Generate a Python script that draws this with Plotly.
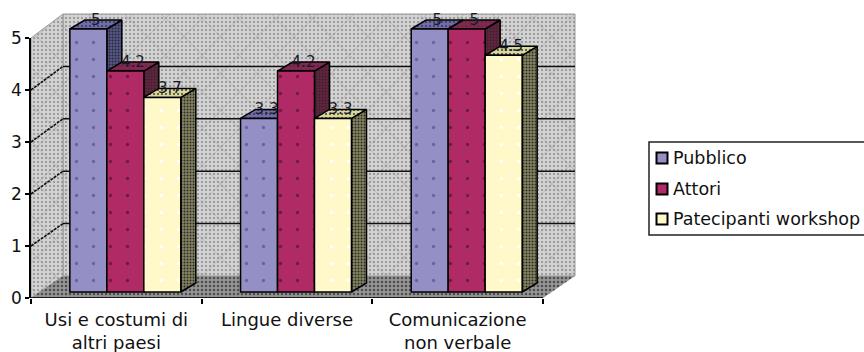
import plotly.graph_objects as go

W, H = 864, 352

categories = ["Usi e costumi di<br>altri paesi", "Lingue diverse", "Comunicazione<br>non verbale"]
series_names = ["Pubblico", "Attori", "Patecipanti workshop"]
pubblico = [5, 3.3, 5]
attori = [4.2, 4.2, 5]
partecipanti = [3.7, 3.3, 4.5]
y_ticks = [0, 1, 2, 3, 4, 5]

front_colors = ["#9490C6", "#B02A66", "#FFF8C8"]
top_colors = ["#6F6DB0", "#8A2452", "#D9D79C"]
side_colors = ["#55558F", "#6B2040", "#85855F"]
dot_colors = ["#6464A8", "#6E1A42", "#FFFFFF"]

# Pixel scale of the plane holding the bar fronts
UX, UY = 170.67, 52.6
X0, Y0 = 40, 292
BAR_W = 37 / UX
DX, DY = 15 / UX, 9 / UY          # depth of one bar
BACK_DX, BACK_DY = 23 / UX, 16 / UY   # bar plane -> back wall
FRONT_DX, FRONT_DY = -9 / UX, -6 / UY  # bar plane -> front edge
WALL_SCALE = 52.4 / UY
AXIS_SCALE = 52 / UY
N_CAT = 3
values = [pubblico, attori, partecipanti]


def px(xp, yp):
    return (xp - X0) / UX, (Y0 - yp) / UY


fig = go.Figure()


def poly(xs, ys, fill, pattern=None, line=None, width=1.5):
    fig.add_trace(go.Scatter(
        x=xs + xs[:1], y=ys + ys[:1], mode="lines", fill="toself", fillcolor=fill,
        fillpattern=pattern,
        line=dict(color=line or "rgba(0,0,0,0)", width=width),
        hoverinfo="skip", showlegend=False))


wall_dots = dict(shape=".", size=4, solidity=0.2, fgcolor="#8A8A8A", bgcolor="#D2D2D2")
wall_cross = dict(shape="x", size=26, solidity=0.04, fgcolor="#9A9A9A", bgcolor="rgba(0,0,0,0)")
floor_dots = dict(shape=".", size=4, solidity=0.3, fgcolor="#4E4E4E", bgcolor="#959595")

# Coordinates of the three depth planes at a given category position and value
front = lambda c, v: (c + FRONT_DX, v * AXIS_SCALE + FRONT_DY)
back = lambda c, v: (c + BACK_DX, v * WALL_SCALE + BACK_DY)

# Back wall
bx = [back(0, 0)[0], back(N_CAT, 0)[0], back(N_CAT, 5)[0], back(0, 5)[0]]
by = [back(0, 0)[1], back(N_CAT, 0)[1], back(N_CAT, 5)[1], back(0, 5)[1]]
poly(bx, by, "#D2D2D2", wall_dots, "#9A9A9A", 1)
poly(bx, by, "rgba(0,0,0,0)", wall_cross)

# Side wall
sx = [front(0, 0)[0], back(0, 0)[0], back(0, 5)[0], front(0, 5)[0]]
sy = [front(0, 0)[1], back(0, 0)[1], back(0, 5)[1], front(0, 5)[1]]
poly(sx, sy, "#D2D2D2", wall_dots, "#9A9A9A", 1)
poly(sx, sy, "rgba(0,0,0,0)", wall_cross)

# Floor
fx = [front(0, 0)[0], front(N_CAT, 0)[0], back(N_CAT, 0)[0], back(0, 0)[0]]
fy = [front(0, 0)[1], front(N_CAT, 0)[1], back(N_CAT, 0)[1], back(0, 0)[1]]
poly(fx, fy, "#959595", floor_dots)

# Gridlines across the side wall and the back wall
for v in y_ticks[1:5]:
    fig.add_trace(go.Scatter(
        x=[front(0, v)[0], back(0, v)[0]], y=[front(0, v)[1], back(0, v)[1]],
        mode="lines", line=dict(color="#111111", width=1.6, dash="3px,1px"),
        hoverinfo="skip", showlegend=False))
    fig.add_trace(go.Scatter(
        x=[back(0, v)[0], back(N_CAT, v)[0]], y=[back(0, v)[1], back(N_CAT, v)[1]],
        mode="lines", line=dict(color="#111111", width=1.5),
        hoverinfo="skip", showlegend=False))

# Side and top faces, drawn back to front so nearer bars cover them
for c in range(N_CAT):
    for s in range(3):
        v = values[s][c]
        xl = c + 0.5 + (s - 1.5) * BAR_W
        xr = xl + BAR_W
        poly([xr, xr + DX, xr + DX, xr], [0, DY, v + DY, v], side_colors[s],
             dict(shape=".", size=3, solidity=0.35, fgcolor="#2A2A2A", bgcolor=side_colors[s]), "#000000")
        poly([xl, xr, xr + DX, xl + DX], [v, v, v + DY, v + DY], top_colors[s],
             dict(shape=".", size=4, solidity=0.2, fgcolor="#3A3A3A", bgcolor=top_colors[s]), "#000000")

# Bar fronts
for s in range(3):
    fig.add_trace(go.Bar(
        x=[c + 0.5 for c in range(N_CAT)], y=values[s], name=series_names[s],
        xaxis="x2", yaxis="y2", showlegend=False,
        marker=dict(color=front_colors[s], line=dict(color="#000000", width=1.5),
                    pattern=dict(shape=".", size=17, solidity=0.03, fgcolor=dot_colors[s],
                                 bgcolor=front_colors[s]))))

# Value labels above each bar
for s in range(3):
    fig.add_trace(go.Scatter(
        x=[c + 0.5 + (s - 1) * BAR_W + DX / 2 for c in range(N_CAT)],
        y=[v + 8 / UY for v in values[s]],
        text=[f"{v:g}" for v in values[s]], mode="text",
        textfont=dict(family="DejaVu Sans", size=15, color="#1A1A2A"),
        xaxis="x2", yaxis="y2", hoverinfo="skip", showlegend=False))

# Legend entries
legend_rows = [158, 189, 219]
for s in range(3):
    lx, ly = px(662, legend_rows[s])
    fig.add_trace(go.Scatter(
        x=[lx], y=[ly], mode="markers", xaxis="x2", yaxis="y2", hoverinfo="skip", showlegend=False,
        marker=dict(symbol="square", size=11, color=front_colors[s], line=dict(color="#000000", width=2))))
    fig.add_annotation(x=px(671, 0)[0], y=ly, xref="x2", yref="y2", text=series_names[s],
                       showarrow=False, xanchor="left", yanchor="middle",
                       font=dict(family="DejaVu Sans", size=17.5, color="#111111"))

# The visible axes sit on the front edge of the floor
fig.add_trace(go.Scatter(x=[0, N_CAT], y=[0, 0], mode="lines", xaxis="x3", yaxis="y3",
                         line=dict(color="#000000", width=1.5), hoverinfo="skip", showlegend=False))

xr_main = [-X0 / UX, (W - X0) / UX]
yr_main = [(Y0 - H) / UY, Y0 / UY]
hidden = dict(visible=False, fixedrange=True, automargin=False)

fig.update_layout(
    template="none",
    width=W, height=H, autosize=False,
    margin=dict(l=0, r=0, t=0, b=0, pad=0),
    paper_bgcolor="#FFFFFF", plot_bgcolor="rgba(0,0,0,0)",
    showlegend=False, barmode="group", bargap=0.35, bargroupgap=0,
    xaxis=dict(range=xr_main, domain=[0, 1], **hidden),
    yaxis=dict(range=yr_main, domain=[0, 1], **hidden),
    xaxis2=dict(range=xr_main, overlaying="x", anchor="y2", **hidden),
    yaxis2=dict(range=yr_main, overlaying="y", anchor="x2", **hidden),
    xaxis3=dict(
        range=[0, N_CAT], domain=[31 / W, 543 / W], anchor="y3", automargin=False,
        tickvals=[c + 0.5 for c in range(N_CAT)], ticktext=categories, ticks="",
        ticklabelstandoff=9,
        minor=dict(ticks="outside", tick0=0, dtick=1, ticklen=5, tickcolor="#000000", tickwidth=1.5),
        showgrid=False, zeroline=False, showline=False,
        tickfont=dict(family="DejaVu Sans", size=18, color="#111111")),
    yaxis3=dict(
        range=[0, 5], domain=[(H - 298) / H, (H - 38) / H], anchor="x3", automargin=False,
        tickvals=y_ticks, ticks="outside", ticklen=4, tickcolor="#000000", tickwidth=1.5,
        showline=True, linecolor="#000000", linewidth=1.5, showgrid=False, zeroline=False,
        tickfont=dict(family="DejaVu Sans", size=17, color="#111111")),
    shapes=[dict(type="rect", xref="paper", yref="paper", x0=649 / W, x1=1.02,
                 y0=(H - 235) / H, y1=(H - 142) / H,
                 line=dict(color="#222222", width=1.5), fillcolor="#FFFFFF", layer="below")],
)

fig.write_html("out.html", config=dict(displayModeBar=False))
